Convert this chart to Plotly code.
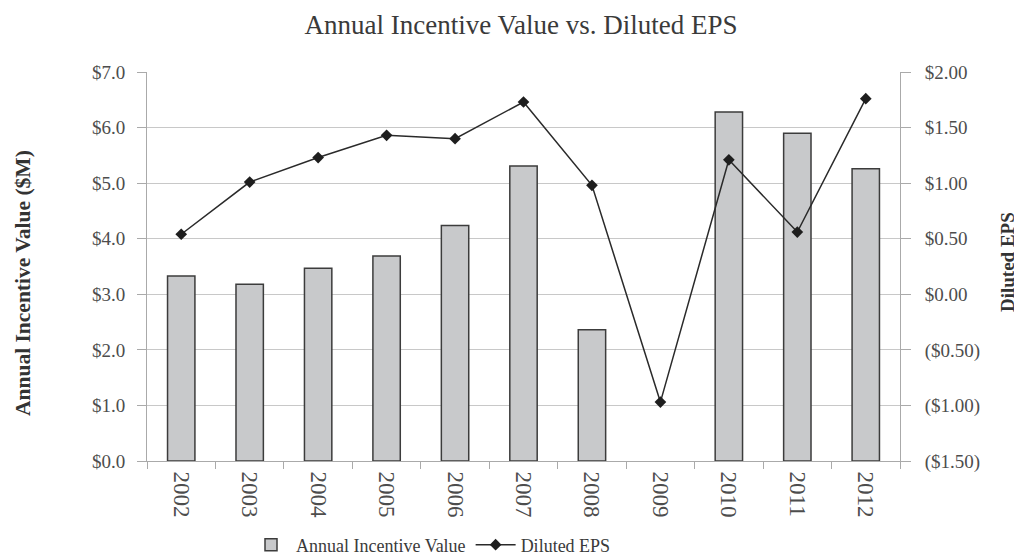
import plotly.graph_objects as go

years = ["2002", "2003", "2004", "2005", "2006", "2007", "2008", "2009", "2010", "2011", "2012"]
incentive = [3.33, 3.18, 3.47, 3.69, 4.24, 5.31, 2.36, None, 6.28, 5.90, 5.26]
eps = [0.54, 1.01, 1.23, 1.43, 1.40, 1.73, 0.98, -0.97, 1.21, 0.56, 1.76]

left_vals = [0, 1, 2, 3, 4, 5, 6, 7]
left_text = ["$0.0", "$1.0", "$2.0", "$3.0", "$4.0", "$5.0", "$6.0", "$7.0"]
right_vals = [-1.5, -1.0, -0.5, 0.0, 0.5, 1.0, 1.5, 2.0]
right_text = ["($1.50)", "($1.00)", "($0.50)", "$0.00", "$0.50", "$1.00", "$1.50", "$2.00"]

FONT = "Liberation Serif, Times New Roman, serif"
TXT = "#4d4d4d"

# page body has an 8px default margin; figure coords = reference coords - 8
W, H = 1014, 548
L, R, T, B = 139, 122, 64, 95
PH = H - T - B
PW = W - L - R

fig = go.Figure()
fig.add_trace(go.Bar(
    x=years, y=incentive, name="Annual Incentive Value",
    marker=dict(color="#c8c9cb", line=dict(color="#3c3c3c", width=1.5)),
    yaxis="y",
))
fig.add_trace(go.Scatter(
    x=years, y=eps, name="Diluted EPS", mode="lines+markers",
    line=dict(color="#2a2a2a", width=1.5),
    marker=dict(symbol="diamond", size=9, color="#1e1e1e"),
    yaxis="y2",
))

fig.update_layout(
    width=W, height=H,
    margin=dict(l=L, r=R, t=T, b=B, autoexpand=False),
    paper_bgcolor="white", plot_bgcolor="white",
    font=dict(family=FONT, color=TXT, size=18),
    bargap=0.6,
    showlegend=True,
    title=dict(text="Annual Incentive Value vs. Diluted EPS", x=513 / W, xanchor="center",
               y=1 - 17 / H, yanchor="middle", font=dict(size=27, color="#3a3a3a", family=FONT)),
    xaxis=dict(
        type="category", range=[-0.5, len(years) - 0.5], tickangle=90,
        tickson="boundaries", ticks="outside",
        ticklen=7, tickcolor="#aaaaaa", showline=True, linecolor="#aaaaaa", linewidth=1,
        showgrid=False, tickfont=dict(size=23, color=TXT), ticklabelstandoff=5,
        automargin=False,
    ),
    yaxis=dict(
        range=[0, 7], tickvals=left_vals, ticktext=left_text, ticks="outside",
        ticklen=9, tickcolor="#aaaaaa", showline=True, linecolor="#aaaaaa",
        showgrid=True, gridcolor="#c8c8c8", gridwidth=1, zeroline=False,
        tickfont=dict(size=19, color=TXT), ticklabelstandoff=8, automargin=False,
    ),
    yaxis2=dict(
        range=[-1.5, 2.0], tickvals=right_vals, ticktext=right_text, overlaying="y",
        side="right", ticks="outside", ticklen=10, tickcolor="#aaaaaa", showline=True,
        linecolor="#aaaaaa", showgrid=False, zeroline=False,
        tickfont=dict(size=19, color=TXT), ticklabelstandoff=10, automargin=False,
    ),
    legend=dict(orientation="h", x=(431 - 8 - L) / PW, xanchor="center",
                y=-(545 - 461) / PH, yanchor="middle",
                font=dict(size=18, color="#3a3a3a"), bgcolor="rgba(0,0,0,0)",
                traceorder="normal", itemwidth=40),
    annotations=[
        dict(text="<b>Annual Incentive Value ($M)</b>", textangle=-90,
             x=(15 - L) / PW, xref="paper", xanchor="center",
             y=(453 - 275) / PH, yref="paper", yanchor="middle",
             showarrow=False, font=dict(size=21.5, color="#333333")),
        dict(text="<b>Diluted EPS</b>", textangle=-90,
             x=(999 - L) / PW, xref="paper", xanchor="center",
             y=(453 - 254) / PH, yref="paper", yanchor="middle",
             showarrow=False, font=dict(size=19, color="#333333")),
    ],
)

fig.write_html("out.html")
